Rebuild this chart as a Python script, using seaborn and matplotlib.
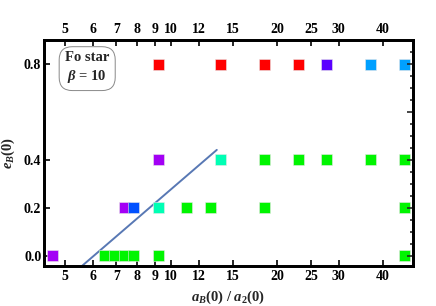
import numpy as np
import pandas as pd
import seaborn as sns
import matplotlib.pyplot as plt
from matplotlib.ticker import FixedLocator, NullFormatter, NullLocator

sns.set_theme(style="white")
plt.rcParams['font.family'] = ['Liberation Serif', 'DejaVu Serif']
plt.rcParams['mathtext.fontset'] = 'custom'
plt.rcParams['mathtext.it'] = 'Liberation Serif:italic:bold'
plt.rcParams['mathtext.rm'] = 'Liberation Serif:bold'
plt.rcParams['mathtext.bf'] = 'Liberation Serif:bold'

# data: semi-major axis ratio, eccentricity, outcome colour
ratio = [4.62, 6.47, 6.93, 7.39, 7.85, 9.24, 46.2,
         7.39, 7.85, 9.24, 11.09, 12.94, 18.48, 46.2,
         9.24, 13.86, 18.48, 23.1, 27.72, 36.96, 46.2,
         9.24, 13.86, 18.48, 23.1, 27.72, 36.96, 46.2]
ecc = [0.0] * 7 + [0.2] * 7 + [0.4] * 7 + [0.8] * 7
outcome = ["violet", "green", "green", "green", "green", "green", "green",
           "violet", "blue", "teal", "green", "green", "green", "green",
           "violet", "teal", "green", "green", "green", "green", "green",
           "red", "red", "red", "red", "indigo", "sky", "sky"]

colours = {"violet": "#a300f5", "green": "#00f500", "blue": "#0050ff",
           "teal": "#00ffb4", "red": "#ff0000", "indigo": "#5a00ff",
           "sky": "#00a0ff"}

# stability boundary line
line_x = [5.59, 13.5]
line_y = [-0.042, 0.442]

xticks = [5, 6, 7, 8, 9, 10, 12, 15, 20, 25, 30, 40]
yticks = [0.0, 0.2, 0.4, 0.8]

df = pd.DataFrame({"ratio": ratio, "ecc": ecc, "outcome": outcome})

fig = plt.figure(figsize=(4.36, 3.06), dpi=100)
ax = fig.add_axes([0.101, 0.131, 0.846, 0.738])

sns.lineplot(x=line_x, y=line_y, ax=ax, color="#5878b4", lw=1.4, zorder=2)
sns.scatterplot(data=df, x="ratio", y="ecc", hue="outcome", palette=colours,
                marker="s", s=62, edgecolor="#e8e8e8", linewidth=0.4,
                legend=False, ax=ax, zorder=3, clip_on=False)

ax.set_xscale("log")
ax.set_xlim(4.36, 48.7)
ax.set_ylim(-0.042, 0.9)

ax.xaxis.set_major_locator(FixedLocator(xticks))
ax.xaxis.set_minor_locator(NullLocator())
ax.set_xticklabels([str(t) for t in xticks])
ax.set_yticks(yticks)
ax.set_yticklabels(["0.0", "0.2", "0.4", "0.8"])

ax.tick_params(axis="both", which="major", direction="in", length=4, width=1.2,
               labelsize=10, colors="black", top=True, labeltop=True, left=True,
               bottom=True, right=False, pad=3)
ax.tick_params(axis="y", pad=2)
for lab in ax.get_xticklabels() + ax.get_yticklabels():
    lab.set_fontweight("bold")

# right-hand side carries its own finer ticks
ax2 = ax.twinx()
ax2.set_ylim(ax.get_ylim())
ax2.set_yticks([0.0, 0.2, 0.4, 0.6, 0.8])
ax2.yaxis.set_minor_locator(FixedLocator([0.05, 0.1, 0.15, 0.25, 0.3, 0.35, 0.45,
                                          0.5, 0.55, 0.65, 0.7, 0.75, 0.85]))
ax2.yaxis.set_major_formatter(NullFormatter())
ax2.tick_params(axis="y", which="major", direction="in", length=4, width=1.2)
ax2.tick_params(axis="y", which="minor", direction="in", length=2.5, width=1.2)
ax2.grid(False)

for a in (ax, ax2):
    for sp in a.spines.values():
        sp.set_color("black")
        sp.set_linewidth(2)

ax.set_xlabel(r"$a_B$(0) / $a_2$(0)", fontsize=10.5, fontweight="bold", labelpad=4)
ax.set_ylabel(r"$e_B$(0)", fontsize=10.5, fontweight="bold", labelpad=5)

ax.text(0.117, 0.878, "Fo star\n" + r"$\beta$ = 10", transform=ax.transAxes,
        ha="center", va="center", fontsize=10.5, fontweight="bold", linespacing=1.35,
        bbox=dict(boxstyle="round,pad=0.4,rounding_size=0.9", fc="white",
                  ec="#888888", lw=0.7))

fig.savefig("out.png", dpi=100)
